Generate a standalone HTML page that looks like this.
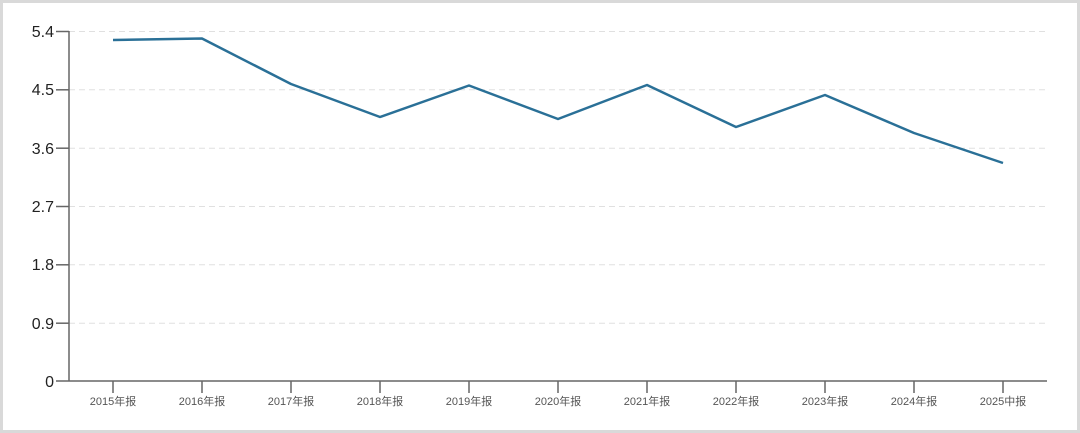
<!DOCTYPE html>
<html><head><meta charset="utf-8"><style>
html,body{margin:0;padding:0;background:#fff;}
.f{position:absolute;left:0;top:0;width:1074px;height:427px;border:3px solid #d9d9d9;}
</style></head><body>
<div class="f"></div>
<svg width="1080" height="433" style="position:absolute;left:0;top:0" font-family="Liberation Sans, Noto Sans CJK SC, sans-serif">
<g stroke="#e0e0e0" stroke-dasharray="6,4" stroke-width="1">
<line x1="69" x2="1047" y1="31.5" y2="31.5"/>
<line x1="69" x2="1047" y1="89.8" y2="89.8"/>
<line x1="69" x2="1047" y1="148.2" y2="148.2"/>
<line x1="69" x2="1047" y1="206.5" y2="206.5"/>
<line x1="69" x2="1047" y1="264.8" y2="264.8"/>
<line x1="69" x2="1047" y1="323.2" y2="323.2"/>
</g>
<g stroke="#666" stroke-width="1.5">
<line x1="69" y1="31" x2="69" y2="381"/>
<line x1="69" y1="381" x2="1047" y2="381"/>
<line x1="56" x2="69" y1="31.5" y2="31.5"/>
<line x1="56" x2="69" y1="89.8" y2="89.8"/>
<line x1="56" x2="69" y1="148.2" y2="148.2"/>
<line x1="56" x2="69" y1="206.5" y2="206.5"/>
<line x1="56" x2="69" y1="264.8" y2="264.8"/>
<line x1="56" x2="69" y1="323.2" y2="323.2"/>
<line x1="56" x2="69" y1="381" y2="381"/>
<g id="t">
<line x1="113" x2="113" y1="381" y2="393"/><line x1="202" x2="202" y1="381" y2="393"/><line x1="291" x2="291" y1="381" y2="393"/><line x1="380" x2="380" y1="381" y2="393"/><line x1="469" x2="469" y1="381" y2="393"/><line x1="558" x2="558" y1="381" y2="393"/><line x1="647" x2="647" y1="381" y2="393"/><line x1="736" x2="736" y1="381" y2="393"/><line x1="825" x2="825" y1="381" y2="393"/><line x1="914" x2="914" y1="381" y2="393"/><line x1="1003" x2="1003" y1="381" y2="393"/>
</g></g>
<g font-size="16" fill="#222" text-anchor="end">
<text x="54" y="37">5.4</text><text x="54" y="95">4.5</text><text x="54" y="154">3.6</text><text x="54" y="212">2.7</text><text x="54" y="270">1.8</text><text x="54" y="329">0.9</text><text x="54" y="387">0</text>
</g>
<g font-size="11" fill="#555" text-anchor="middle">
<text x="113" y="405">2015年报</text><text x="202" y="405">2016年报</text><text x="291" y="405">2017年报</text><text x="380" y="405">2018年报</text><text x="469" y="405">2019年报</text><text x="558" y="405">2020年报</text><text x="647" y="405">2021年报</text><text x="736" y="405">2022年报</text><text x="825" y="405">2023年报</text><text x="914" y="405">2024年报</text><text x="1003" y="405">2025中报</text>
</g>
<polyline fill="none" stroke="#2a7097" stroke-width="2.5" stroke-linejoin="round" points="113,40 202,38.5 291,84 380,117 469,85.5 558,119 647,85 736,127 825,95 914,133 1003,163"/>
</svg>
</body></html>
